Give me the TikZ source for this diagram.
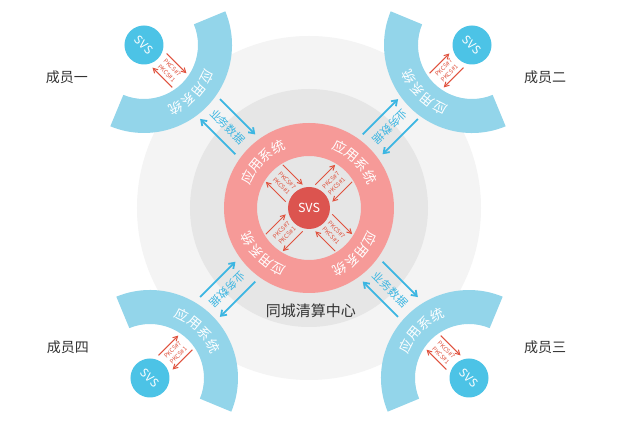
\documentclass[tikz,border=0pt]{standalone}
\usepackage{fontspec}
\setmainfont{Noto Sans CJK SC}
\usetikzlibrary{arrows.meta}
\definecolor{ringgray}{HTML}{F4F4F4}
\definecolor{midgray}{HTML}{E6E6E6}
\definecolor{ringpink}{HTML}{F69A98}
\definecolor{svsred}{HTML}{DC544F}
\definecolor{arrowred}{HTML}{E0523E}
\definecolor{arcblue}{HTML}{93D5EA}
\definecolor{svsblue}{HTML}{4CC3E6}
\definecolor{arrowblue}{HTML}{3CB6E2}
\tikzset{
  redarrow/.style={draw=arrowred,line width=1pt,-{Straight Barb[length=4.5pt,width=5pt]}},
  bluearrow/.style={draw=arrowblue,line width=1.8pt,-{Straight Barb[length=5pt,width=7pt]}},
  pkcs/.style={font=\fontsize{6}{6}\selectfont,text=arrowred,inner sep=0pt},
  syschar/.style={font=\fontsize{13.5}{13.5}\selectfont,text=white,inner sep=0pt},
  datatext/.style={font=\fontsize{11}{11}\selectfont,text=arrowblue,inner sep=0pt},
  member/.style={font=\fontsize{14}{14}\selectfont,text=black!80},
  membersvs/.style={circle,fill=svsblue,minimum size=39,inner sep=0pt,text=white,font=\fontsize{11.5}{11.5}\selectfont}
}

\begin{document}
\begin{tikzpicture}[x=1pt,y=1pt]
\useasboundingbox[fill=white] (-309,-217) rectangle (310,208);

% clearing centre
\fill[ringgray] (0,0) circle (172);
\fill[midgray] (0,0) circle (119);
\fill[ringpink,even odd rule] (0,0) circle (85) (0,0) circle (52);
\node[circle,fill=svsred,minimum size=42,inner sep=0pt,text=white,font=\fontsize{12.5}{12.5}\selectfont] (svs) at (0,0) {SVS};
\node[font=\fontsize{15}{15}\selectfont,text=black!80] (centre) at (2,-103) {同城清算中心};

\node[syschar,rotate=63] (ra1) at (153:68.5) {应};
\node[syschar,rotate=51] (ra2) at (141:68.5) {用};
\node[syschar,rotate=39] (ra3) at (129:68.5) {系};
\node[syschar,rotate=27] (ra4) at (117:68.5) {统};
\node[syschar,rotate=-27] (rb1) at (63:68.5) {应};
\node[syschar,rotate=-39] (rb2) at (51:68.5) {用};
\node[syschar,rotate=-51] (rb3) at (39:68.5) {系};
\node[syschar,rotate=-63] (rb4) at (27:68.5) {统};
\node[syschar,rotate=-117] (rc1) at (-27:68.5) {应};
\node[syschar,rotate=-129] (rc2) at (-39:68.5) {用};
\node[syschar,rotate=-141] (rc3) at (-51:68.5) {系};
\node[syschar,rotate=-153] (rc4) at (-63:68.5) {统};
\node[syschar,rotate=-207] (rd1) at (-117:68.5) {应};
\node[syschar,rotate=-219] (rd2) at (-129:68.5) {用};
\node[syschar,rotate=-231] (rd3) at (-141:68.5) {系};
\node[syschar,rotate=-243] (rd4) at (-153:68.5) {统};

% signing arrows round the centre SVS
\begin{scope}[rotate=135]
\coordinate (ca1) at (21,12); \coordinate (ca2) at (49,12);
\coordinate (ca3) at (49,-12); \coordinate (ca4) at (21,-12);
\node[pkcs,rotate=-45] (cat7) at (35,-4) {PKCS\#7};
\node[pkcs,rotate=-45] (cat1) at (35,4) {PKCS\#1};
\end{scope}
\begin{scope}[rotate=45]
\coordinate (cb1) at (21,12); \coordinate (cb2) at (49,12);
\coordinate (cb3) at (49,-12); \coordinate (cb4) at (21,-12);
\node[pkcs,rotate=45] (cbt7) at (35,4) {PKCS\#7};
\node[pkcs,rotate=45] (cbt1) at (35,-4) {PKCS\#1};
\end{scope}
\begin{scope}[rotate=-45]
\coordinate (cc1) at (21,12); \coordinate (cc2) at (49,12);
\coordinate (cc3) at (49,-12); \coordinate (cc4) at (21,-12);
\node[pkcs,rotate=-45] (cct7) at (35,4) {PKCS\#7};
\node[pkcs,rotate=-45] (cct1) at (35,-4) {PKCS\#1};
\end{scope}
\begin{scope}[rotate=-135]
\coordinate (cd1) at (21,12); \coordinate (cd2) at (49,12);
\coordinate (cd3) at (49,-12); \coordinate (cd4) at (21,-12);
\node[pkcs,rotate=45] (cdt7) at (35,-4) {PKCS\#7};
\node[pkcs,rotate=45] (cdt1) at (35,4) {PKCS\#1};
\end{scope}
\draw[redarrow] (ca1) -- (ca2); \draw[redarrow] (ca3) -- (ca4);
\draw[redarrow] (cb1) -- (cb2); \draw[redarrow] (cb3) -- (cb4);
\draw[redarrow] (cc1) -- (cc2); \draw[redarrow] (cc3) -- (cc4);
\draw[redarrow] (cd1) -- (cd2); \draw[redarrow] (cd3) -- (cd4);

% business data arrows
\begin{scope}[rotate=135]
\coordinate (da1) at (90,14); \coordinate (da2) at (140,14);
\coordinate (da3) at (140,-14); \coordinate (da4) at (90,-14);
\node[datatext,rotate=-45] (dat) at (115,0) {业务数据};
\end{scope}
\begin{scope}[rotate=45]
\coordinate (db1) at (90,14); \coordinate (db2) at (140,14);
\coordinate (db3) at (140,-14); \coordinate (db4) at (90,-14);
\node[datatext,rotate=-135] (dbt) at (115,0) {业务数据};
\end{scope}
\begin{scope}[rotate=-45]
\coordinate (dc1) at (90,14); \coordinate (dc2) at (140,14);
\coordinate (dc3) at (140,-14); \coordinate (dc4) at (90,-14);
\node[datatext,rotate=-45] (dct) at (115,0) {业务数据};
\end{scope}
\begin{scope}[rotate=-135]
\coordinate (dd1) at (90,14); \coordinate (dd2) at (140,14);
\coordinate (dd3) at (140,-14); \coordinate (dd4) at (90,-14);
\node[datatext,rotate=-135] (ddt) at (115,0) {业务数据};
\end{scope}
\draw[bluearrow] (da1) -- (da2); \draw[bluearrow] (da3) -- (da4);
\draw[bluearrow] (db1) -- (db2); \draw[bluearrow] (db3) -- (db4);
\draw[bluearrow] (dc1) -- (dc2); \draw[bluearrow] (dc3) -- (dc4);
\draw[bluearrow] (dd1) -- (dd2); \draw[bluearrow] (dd3) -- (dd4);

% member one
\begin{scope}[shift={(-165,163)}]
\fill[arcblue] (22.5:88) arc[start angle=22.5,end angle=-112.5,radius=88] -- (-112.5:54) arc[start angle=-112.5,end angle=22.5,radius=54] -- cycle;
\node[membersvs,rotate=-45] (svsA) at (0,0) {SVS};
\node[syschar,rotate=-117] (ma1) at (-27:71) {应};
\node[syschar,rotate=-129] (ma2) at (-39:71) {用};
\node[syschar,rotate=-141] (ma3) at (-51:71) {系};
\node[syschar,rotate=-153] (ma4) at (-63:71) {统};
\begin{scope}[rotate=-45]
\coordinate (sa1) at (22,10); \coordinate (sa2) at (50,10);
\coordinate (sa3) at (50,-10); \coordinate (sa4) at (22,-10);
\node[pkcs,rotate=-45] (sat7) at (36,4) {PKCS\#7};
\node[pkcs,rotate=-45] (sat1) at (36,-4) {PKCS\#1};
\end{scope}
\end{scope}
\draw[redarrow] (sa1) -- (sa2); \draw[redarrow] (sa3) -- (sa4);
\node[member] (nameA) at (-242,131) {成员一};

% member two
\begin{scope}[shift={(163,163)}]
\fill[arcblue] (-67.5:88) arc[start angle=-67.5,end angle=-202.5,radius=88] -- (-202.5:54) arc[start angle=-202.5,end angle=-67.5,radius=54] -- cycle;
\node[membersvs,rotate=-45] (svsB) at (0,0) {SVS};
\node[syschar,rotate=-207] (mb1) at (-117:71) {应};
\node[syschar,rotate=-219] (mb2) at (-129:71) {用};
\node[syschar,rotate=-231] (mb3) at (-141:71) {系};
\node[syschar,rotate=-243] (mb4) at (-153:71) {统};
\begin{scope}[rotate=-135]
\coordinate (sb1) at (22,10); \coordinate (sb2) at (50,10);
\coordinate (sb3) at (50,-10); \coordinate (sb4) at (22,-10);
\node[pkcs,rotate=45] (sbt7) at (36,-4) {PKCS\#7};
\node[pkcs,rotate=45] (sbt1) at (36,4) {PKCS\#1};
\end{scope}
\end{scope}
\draw[redarrow] (sb1) -- (sb2); \draw[redarrow] (sb3) -- (sb4);
\node[member] (nameB) at (236,131) {成员二};

% member three
\begin{scope}[shift={(160,-170)}]
\fill[arcblue] (202.5:88) arc[start angle=202.5,end angle=67.5,radius=88] -- (67.5:54) arc[start angle=67.5,end angle=202.5,radius=54] -- cycle;
\node[membersvs,rotate=-45] (svsC) at (0,0) {SVS};
\node[syschar,rotate=63] (mc1) at (153:71) {应};
\node[syschar,rotate=51] (mc2) at (141:71) {用};
\node[syschar,rotate=39] (mc3) at (129:71) {系};
\node[syschar,rotate=27] (mc4) at (117:71) {统};
\begin{scope}[rotate=135]
\coordinate (sc1) at (22,10); \coordinate (sc2) at (50,10);
\coordinate (sc3) at (50,-10); \coordinate (sc4) at (22,-10);
\node[pkcs,rotate=-45] (sct7) at (36,-4) {PKCS\#7};
\node[pkcs,rotate=-45] (sct1) at (36,4) {PKCS\#1};
\end{scope}
\end{scope}
\draw[redarrow] (sc1) -- (sc2); \draw[redarrow] (sc3) -- (sc4);
\node[member] (nameC) at (236,-139) {成员三};

% member four
\begin{scope}[shift={(-159,-170)}]
\fill[arcblue] (112.5:88) arc[start angle=112.5,end angle=-22.5,radius=88] -- (-22.5:54) arc[start angle=-22.5,end angle=112.5,radius=54] -- cycle;
\node[membersvs,rotate=-45] (svsD) at (0,0) {SVS};
\node[syschar,rotate=-27] (md1) at (63:71) {应};
\node[syschar,rotate=-39] (md2) at (51:71) {用};
\node[syschar,rotate=-51] (md3) at (39:71) {系};
\node[syschar,rotate=-63] (md4) at (27:71) {统};
\begin{scope}[rotate=45]
\coordinate (sd1) at (22,10); \coordinate (sd2) at (50,10);
\coordinate (sd3) at (50,-10); \coordinate (sd4) at (22,-10);
\node[pkcs,rotate=45] (sdt7) at (36,4) {PKCS\#7};
\node[pkcs,rotate=45] (sdt1) at (36,-4) {PKCS\#1};
\end{scope}
\end{scope}
\draw[redarrow] (sd1) -- (sd2); \draw[redarrow] (sd3) -- (sd4);
\node[member] (nameD) at (-241,-139) {成员四};

\end{tikzpicture}
\end{document}
